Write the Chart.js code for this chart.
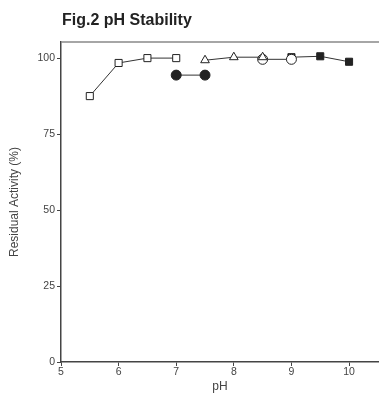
<!DOCTYPE html>
<html>
<head>
<meta charset="utf-8">
<script src="https://cdn.jsdelivr.net/npm/chart.js@4"></script>
<style>
    html, body { margin: 0; padding: 0; background: #fff; }
    #wrap { position: relative; width: 379px; height: 394px; }
    #title {
        position: absolute; left: 62px; top: 10px; line-height: 20px;
        font-family: "Liberation Sans", Arial, sans-serif;
        font-weight: bold; font-size: 16px; color: #222;
    }
</style>
</head>
<body>
<div id="wrap">
    <div id="title">Fig.2 pH Stability</div>
    <canvas id="phChart" width="379" height="394"></canvas>
</div>
<script>
// pH values and residual activity (%) for each buffer series
const phOpenSquare = [5.5, 6.0, 6.5, 7.0];
const actOpenSquare = [87.5, 98.4, 100, 100];
const phFilledCircle = [7.0, 7.5];
const actFilledCircle = [94.4, 94.4];
const phOpenTriangle = [7.5, 8.0, 8.5];
const actOpenTriangle = [99.3, 100.3, 100.3];
const phOpenCircle = [8.5, 9.0];
const actOpenCircle = [99.6, 99.6];
const phFilledSquare = [9.0, 9.5, 10.0];
const actFilledSquare = [100.3, 100.6, 98.8];

const xTicks = [5, 6, 7, 8, 9, 10];
const yTicks = [0, 25, 50, 75, 100];

function toPoints(xs, ys) {
    return xs.map((x, i) => ({ x: x, y: ys[i] }));
}

function series(xs, ys, style, fill) {
    return {
        data: toPoints(xs, ys),
        showLine: true,
        borderColor: '#333',
        borderWidth: 1,
        pointStyle: style,
        pointRadius: 5,
        pointBackgroundColor: fill,
        pointBorderColor: '#222',
        pointBorderWidth: 1
    };
}

// top frame line
const topLine = {
    id: 'topLine',
    afterDraw(chart) {
        const a = chart.chartArea;
        const c = chart.ctx;
        c.save();
        c.strokeStyle = '#888';
        c.lineWidth = 1.5;
        c.beginPath();
        c.moveTo(a.left, a.top);
        c.lineTo(a.right, a.top);
        c.stroke();
        c.restore();
    }
};

const fontFam = '"Liberation Sans", Arial, sans-serif';

const ctx = document.getElementById('phChart').getContext('2d');
const phChart = new Chart(ctx, {
    type: 'scatter',
    data: {
        datasets: [
            series(phOpenSquare, actOpenSquare, 'rect', '#fff'),
            series(phFilledCircle, actFilledCircle, 'circle', '#222'),
            series(phOpenTriangle, actOpenTriangle, 'triangle', '#fff'),
            series(phOpenCircle, actOpenCircle, 'circle', '#fff'),
            series(phFilledSquare, actFilledSquare, 'rect', '#222')
        ]
    },
    options: {
        responsive: false,
        animation: false,
        layout: { autoPadding: false, padding: { top: 42, right: 0, left: 0, bottom: 0 } },
        plugins: { legend: { display: false }, tooltip: { enabled: false } },
        scales: {
            x: {
                type: 'linear',
                min: 5,
                max: 10.52,
                afterBuildTicks: axis => { axis.ticks = xTicks.map(v => ({ value: v })); },
                afterFit: axis => { axis.height = 32; },
                grid: { drawOnChartArea: false, drawTicks: true, tickLength: 4, color: '#444' },
                border: { color: '#444', width: 1.5 },
                ticks: { color: '#444', padding: 0, maxRotation: 0, font: { family: fontFam, size: 10.5 } },
                title: { display: true, text: 'pH', color: '#444', padding: 0, font: { family: fontFam, size: 12 } }
            },
            y: {
                min: 0,
                max: 105.3,
                afterBuildTicks: axis => { axis.ticks = yTicks.map(v => ({ value: v })); },
                afterFit: axis => { axis.width = 61; },
                grid: { drawOnChartArea: false, drawTicks: true, tickLength: 4, color: '#444' },
                border: { color: '#444', width: 1.5 },
                ticks: { color: '#444', padding: 2, font: { family: fontFam, size: 10.5 } },
                title: { display: true, text: 'Residual Activity (%)', color: '#444', padding: { top: 7, bottom: 0 }, font: { family: fontFam, size: 12 } }
            }
        }
    },
    plugins: [topLine]
});
</script>
</body>
</html>
